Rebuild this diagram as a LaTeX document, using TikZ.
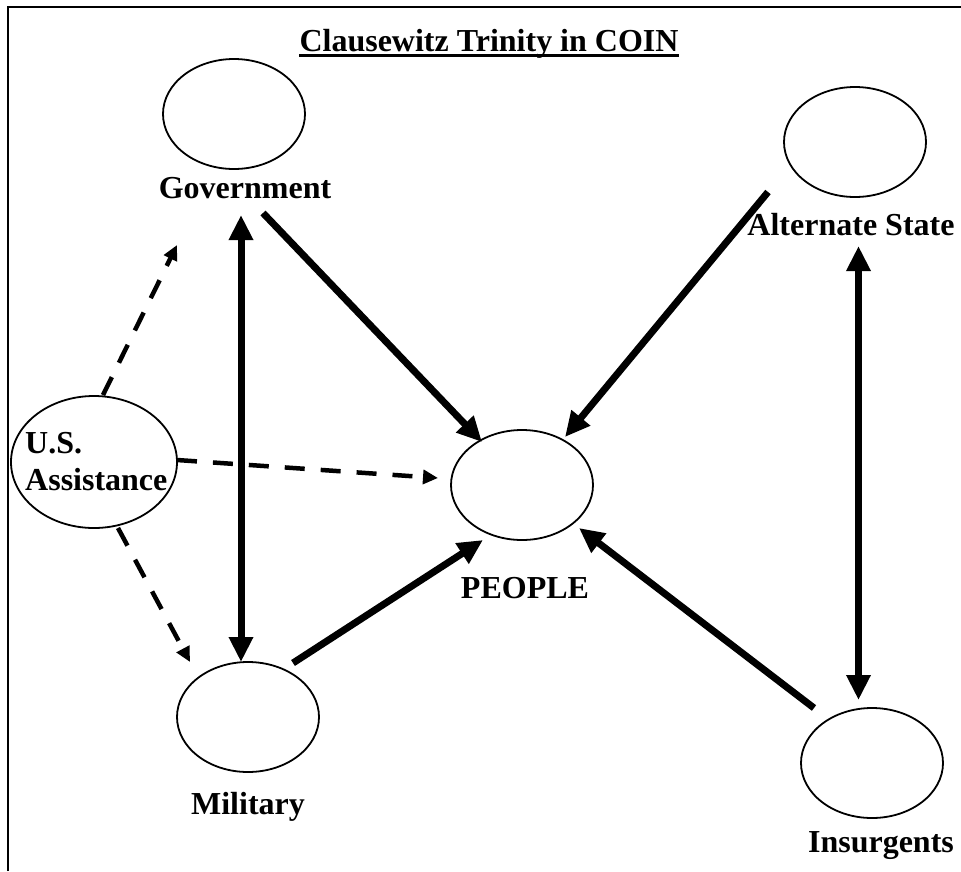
\documentclass[tikz,border=0pt]{standalone}
\usepackage{fontspec}
\setmainfont{Liberation Serif}
\usetikzlibrary{arrows.meta,shapes.geometric,calc}
\begin{document}
\begin{tikzpicture}[x=1pt,y=-1pt,
  oval/.style={draw,ellipse,line width=1.8pt,minimum width=142pt,minimum height=110pt,inner sep=0pt},
  lbl/.style={font=\fontsize{32}{37}\selectfont\bfseries,inner sep=0pt,anchor=base},
  bigarrow/.style={line width=7pt,-{Triangle[length=25pt,width=23pt]}},
  bigdouble/.style={line width=7pt,{Triangle[length=25pt,width=23pt]}-{Triangle[length=25pt,width=23pt]}},
  dasharrow/.style={line width=4.5pt,dash pattern=on 20pt off 16pt,-{Triangle[length=15pt,width=14pt]}}
]
\useasboundingbox (0,0) rectangle (961,871);
% frame (top and left edges)
\draw[line width=2pt] (8,871) -- (8,7) -- (961,7);

% title
\node[lbl] (title) at (489,51) {Clausewitz Trinity in COIN};
\draw[line width=3.5pt] ($(title.base west)+(0,4.5)$) -- ($(title.base east)+(0,4.5)$);

% ellipses
\node[oval] (gov) at (234,114) {};
\node[oval] (alt) at (855,142) {};
\node[oval] (peo) at (522,485) {};
\node[oval] (mil) at (248,717) {};
\node[oval] (ins) at (872,763) {};
\node[oval,minimum width=166pt,minimum height=132pt] (us) at (94,462) {};

% labels
\node[lbl] (govl) at (245,198) {Government};
\node[lbl] (altl) at (851,235) {Alternate State};
\node[lbl] (peol) at (525,598) {PEOPLE};
\node[lbl] (mill) at (248,814) {Military};
\node[lbl] (insl) at (881,852) {Insurgents};
\node[lbl,anchor=base west] (usl1) at (25,453) {U.S.};
\node[lbl,anchor=base west] (usl2) at (25,490) {Assistance};

% connector end points
\coordinate (gp1) at (263,213);  \coordinate (gp2) at (482,442);
\coordinate (ap1) at (768,192);  \coordinate (ap2) at (565,437);
\coordinate (mp1) at (293,663);  \coordinate (mp2) at (483,540);
\coordinate (ip1) at (814,708);  \coordinate (ip2) at (579,528);
\coordinate (gm1) at (241,215);  \coordinate (gm2) at (241,662);
\coordinate (ai1) at (858.5,246); \coordinate (ai2) at (858.5,700);
\coordinate (ug1) at (103,395);  \coordinate (ug2) at (177,245);
\coordinate (up1) at (177,460);  \coordinate (up2) at (438,478);
\coordinate (um1) at (118,528);  \coordinate (um2) at (190,662);

% solid connectors
\draw[bigarrow] (gp1) -- (gp2);
\draw[bigarrow] (ap1) -- (ap2);
\draw[bigarrow] (mp1) -- (mp2);
\draw[bigarrow] (ip1) -- (ip2);
\draw[bigdouble] (gm1) -- (gm2);
\draw[bigdouble] (ai1) -- (ai2);

% dashed connectors
\draw[dasharrow] (ug1) -- (ug2);
\draw[dasharrow] (up1) -- (up2);
\draw[dasharrow] (um1) -- (um2);
\end{tikzpicture}
\end{document}
